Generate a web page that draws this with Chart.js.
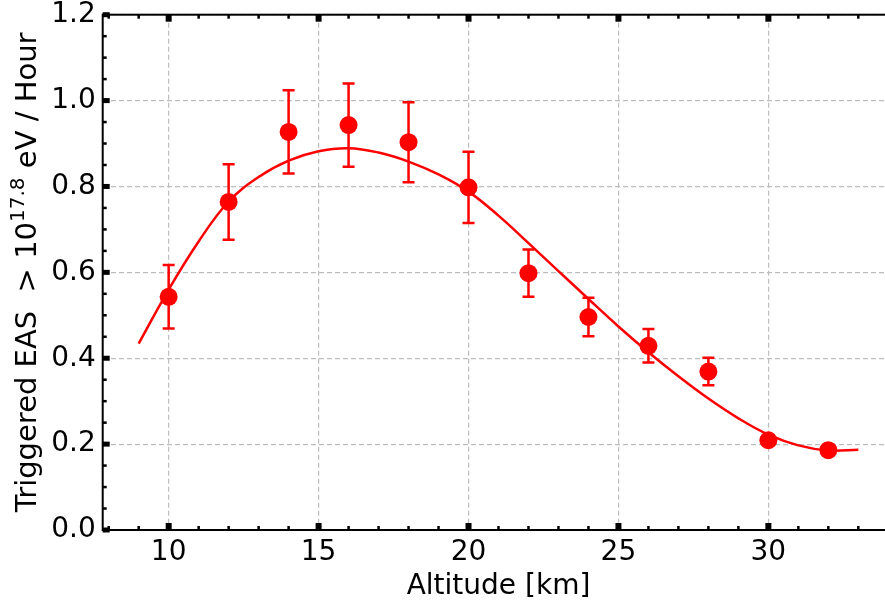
<!DOCTYPE html>
<html>
<head>
<meta charset="utf-8">
<script src="https://cdn.jsdelivr.net/npm/chart.js@4"></script>
<style>
  html, body { margin: 0; padding: 0; background: #fff; overflow: hidden; }
  #wrap { width: 885px; height: 600px; }
</style>
</head>
<body>
<div id="wrap"><canvas id="chart" width="885" height="600"></canvas></div>
<script>
// measured points
const altitudes = [10, 12, 14, 16, 18, 20, 22, 24, 26, 28, 30, 32];
const rates = [0.543, 0.764, 0.927, 0.943, 0.903, 0.798, 0.598, 0.496, 0.429, 0.369, 0.209, 0.186];
const errors = [0.074, 0.088, 0.097, 0.097, 0.093, 0.083, 0.055, 0.045, 0.039, 0.032, 0.010, 0.008];

// fitted curve
const fitX = [9, 10, 11, 12, 13, 14, 15, 16, 17, 18, 19, 20, 21, 22, 23, 24, 25, 26, 27, 28, 29, 30, 31, 32, 33];
const fitY = [0.434, 0.560, 0.672, 0.765, 0.822, 0.860, 0.882, 0.889, 0.879, 0.858, 0.828, 0.788, 0.732,
              0.668, 0.603, 0.538, 0.474, 0.414, 0.358, 0.306, 0.260, 0.222, 0.197, 0.185, 0.187];

const xTicks = [10, 15, 20, 25, 30];
const yTicks = [0.0, 0.2, 0.4, 0.6, 0.8, 1.0, 1.2];

const xTitle = 'Altitude [km]';
const yTitleParts = ['Triggered EAS  > 10', '17.8', ' eV / Hour'];

const FONT = '"DejaVu Sans", sans-serif';
const RED = '#ff0000';

// plot box in canvas pixels; the right spine falls just outside the picture
const AREA = { left: 102.7, top: 14.7, right: 894.3, bottom: 530 };

const fixedArea = {
    id: 'fixedArea',
    afterLayout(chart) {
        const { x, y } = chart.scales;
        const w = AREA.right - AREA.left, h = AREA.bottom - AREA.top;
        Object.assign(chart.chartArea, AREA, { width: w, height: h });
        Object.assign(x, { left: AREA.left, right: AREA.right, width: w, top: AREA.bottom, bottom: chart.height, height: chart.height - AREA.bottom });
        Object.assign(y, { left: 0, right: AREA.left, width: AREA.left, top: AREA.top, bottom: AREA.bottom, height: h });
        x.configure();
        y.configure();
    }
};

const errorBars = {
    id: 'errorBars',
    beforeDatasetsDraw(chart) {
        const { ctx, scales: { x, y } } = chart;
        ctx.save();
        ctx.strokeStyle = RED;
        ctx.lineWidth = 2.5;
        altitudes.forEach((a, i) => {
            const px = x.getPixelForValue(a);
            const top = y.getPixelForValue(rates[i] + errors[i]);
            const bot = y.getPixelForValue(rates[i] - errors[i]);
            ctx.beginPath();
            ctx.moveTo(px, top); ctx.lineTo(px, bot);
            ctx.moveTo(px - 6, top); ctx.lineTo(px + 6, top);
            ctx.moveTo(px - 6, bot); ctx.lineTo(px + 6, bot);
            ctx.stroke();
        });
        ctx.restore();
    }
};

const frame = {
    id: 'frame',
    afterDraw(chart) {
        const { ctx, chartArea: a, scales: { x, y } } = chart;
        ctx.save();
        ctx.fillStyle = '#000';
        // minor ticks
        for (let v = 8; v <= 34; v++) {
            const px = x.getPixelForValue(v);
            ctx.fillRect(px - 1.25, a.bottom - 4, 2.5, 4);
            ctx.fillRect(px - 1.25, a.top, 2.5, 4);
        }
        for (let k = 0; k <= 24; k++) {
            const py = y.getPixelForValue(k * 0.05);
            ctx.fillRect(a.left, py - 1.25, 4, 2.5);
            ctx.fillRect(a.right - 4, py - 1.25, 4, 2.5);
        }
        // major ticks
        xTicks.forEach(v => {
            const px = x.getPixelForValue(v);
            ctx.fillRect(px - 3, a.bottom - 7, 6, 7);
            ctx.fillRect(px - 3, a.top, 6, 7);
        });
        yTicks.forEach(v => {
            const py = y.getPixelForValue(v);
            ctx.fillRect(a.left, py - 2.5, 7, 5);
            ctx.fillRect(a.right - 7, py - 2.5, 7, 5);
        });
        // box
        ctx.strokeStyle = '#000';
        ctx.lineWidth = 2;
        ctx.strokeRect(a.left, a.top, a.right - a.left, a.bottom - a.top);

        // titles
        ctx.fillStyle = '#000';
        ctx.font = '28px ' + FONT;
        ctx.textAlign = 'center';
        ctx.textBaseline = 'alphabetic';
        ctx.fillText(xTitle, (a.left + a.right) / 2, 594);

        const big = '29px ' + FONT, small = '20px ' + FONT;
        ctx.font = big;
        const w1 = ctx.measureText(yTitleParts[0]).width;
        const w3 = ctx.measureText(yTitleParts[2]).width;
        ctx.font = small;
        const w2 = ctx.measureText(yTitleParts[1]).width;
        const total = w1 + w2 + w3;
        ctx.translate(36, (a.top + a.bottom) / 2);
        ctx.rotate(-Math.PI / 2);
        ctx.textAlign = 'left';
        let cx = -total / 2;
        ctx.font = big;
        ctx.fillText(yTitleParts[0], cx, 0);
        cx += w1;
        ctx.font = small;
        ctx.fillText(yTitleParts[1], cx, -12);
        cx += w2;
        ctx.font = big;
        ctx.fillText(yTitleParts[2], cx, 0);
        ctx.restore();
    }
};

new Chart(document.getElementById('chart'), {
    type: 'scatter',
    data: {
        datasets: [
            {
                label: 'data',
                data: altitudes.map((a, i) => ({ x: a, y: rates[i] })),
                backgroundColor: RED,
                borderWidth: 0,
                pointRadius: 9,
                order: 0
            },
            {
                label: 'fit',
                type: 'line',
                data: fitX.map((a, i) => ({ x: a, y: fitY[i] })),
                borderColor: RED,
                borderWidth: 2.5,
                pointRadius: 0,
                fill: false,
                tension: 0.4,
                order: 1
            }
        ]
    },
    options: {
        responsive: false,
        animation: false,
        devicePixelRatio: 1,
        layout: { autoPadding: false, padding: { left: 0, top: 15, right: 0, bottom: 0 } },
        plugins: { legend: { display: false }, tooltip: { enabled: false } },
        scales: {
            x: {
                type: 'linear',
                min: 7.8,
                max: 34.2,
                afterFit: s => { s.height = 70; },
                afterBuildTicks: s => { s.ticks = xTicks.map(v => ({ value: v })); },
                ticks: { padding: 6, color: '#000', font: { family: FONT, size: 28 } },
                grid: { color: '#bdbdbd', lineWidth: 1.2, drawTicks: false },
                border: { display: false, dash: [5, 3] }
            },
            y: {
                min: 0,
                max: 1.2,
                afterFit: s => { s.width = 103; },
                afterBuildTicks: s => { s.ticks = yTicks.map(v => ({ value: v })); },
                ticks: {
                    padding: 7, color: '#000', font: { family: FONT, size: 28 },
                    callback: v => Number(v).toFixed(1)
                },
                grid: { color: '#bdbdbd', lineWidth: 1.2, drawTicks: false },
                border: { display: false, dash: [5, 3] }
            }
        }
    },
    plugins: [fixedArea, errorBars, frame]
});
</script>
</body>
</html>
